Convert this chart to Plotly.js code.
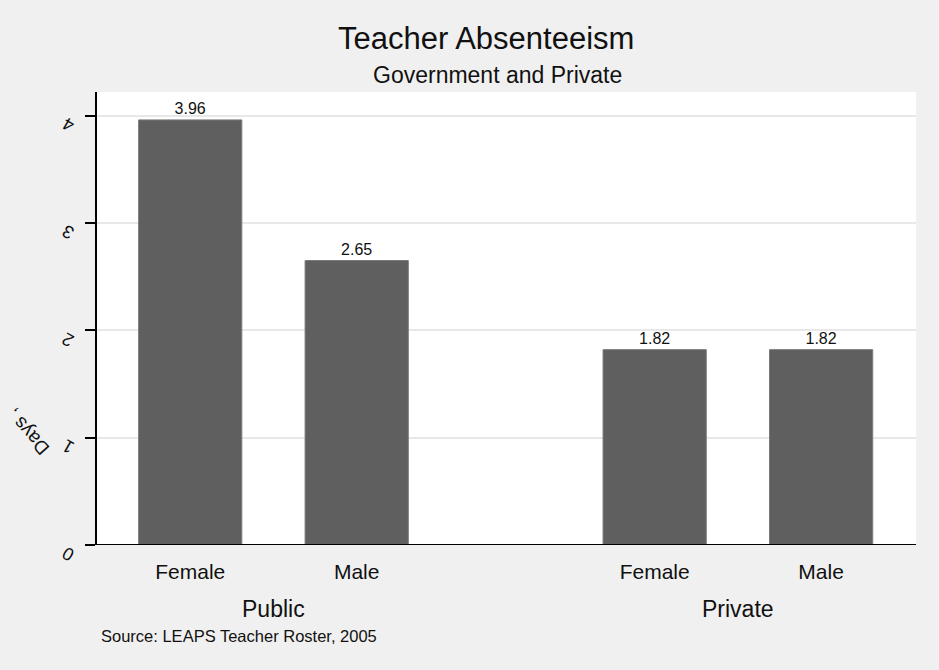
<!DOCTYPE html>
<html>
<head>
<meta charset="utf-8">
<script src="https://cdn.plot.ly/plotly-3.0.1.min.js"></script>
<style>html,body{margin:0;padding:0;background:#f0f0f0;}#chart{width:939px;height:670px;}</style>
</head>
<body>
<div id="chart"></div>
<script>
const groups = ["Public", "Private"];
const categories = ["Female", "Male"];
const values = [[3.96, 2.65], [1.82, 1.82]];
const yTicks = [0, 1, 2, 3, 4];

const groupGap = 2.79;
const xs = [], ys = [], labels = [], tickvals = [], ticktext = [];
const annotations = [];
groups.forEach((g, gi) => {
  categories.forEach((c, ci) => {
    const x = gi * groupGap + ci;
    xs.push(x); ys.push(values[gi][ci]);
    labels.push(values[gi][ci].toFixed(2));
    tickvals.push(x); ticktext.push(c);
  });
  annotations.push({
    x: gi * groupGap + (categories.length - 1) / 2, xref: 'x',
    y: 0, yref: 'paper', yanchor: 'middle', yshift: -64,
    text: g, showarrow: false, font: {size: 23, color: '#111'}
  });
});
// rotated y tick labels
yTicks.forEach(v => {
  annotations.push({
    x: 0, xref: 'paper', xshift: -41, y: v, yref: 'y', yshift: -9,
    text: String(v), textangle: -150, showarrow: false,
    font: {size: 18, color: '#111'}
  });
});
annotations.push({
  x: 0, xref: 'paper', xanchor: 'left', xshift: 2,
  y: 0, yref: 'paper', yanchor: 'middle', yshift: -91,
  text: 'Source: LEAPS Teacher Roster, 2005', showarrow: false,
  font: {size: 16.5, color: '#111'}
});
annotations.push({
  x: 0, xref: 'paper', xshift: -98, y: 1.05, yref: 'y',
  text: 'Days ,', textangle: -132, showarrow: false,
  font: {size: 19, color: '#111'}
});
annotations.push({
  x: 0.4744, xref: 'paper', y: 1, yref: 'paper', yanchor: 'middle', yshift: 54,
  text: 'Teacher Absenteeism', showarrow: false, font: {size: 31, color: '#111'}
});
annotations.push({
  x: 0.489, xref: 'paper', y: 1, yref: 'paper', yanchor: 'middle', yshift: 17.5,
  text: 'Government and Private', showarrow: false, font: {size: 23, color: '#111'}
});

const trace = {
  type: 'bar', x: xs, y: ys, width: 0.62,
  text: labels, textposition: 'outside', cliponaxis: false,
  textfont: {size: 16, color: '#111'},
  marker: {color: '#5f5f5f', line: {color: '#7a7a7a', width: 1}},
  hoverinfo: 'none'
};

const layout = {
  width: 939, height: 670,
  paper_bgcolor: '#f0f0f0', plot_bgcolor: '#ffffff',
  font: {family: 'Arial, "Liberation Sans", sans-serif', color: '#111'},
  margin: {l: 97, r: 23, t: 92, b: 125},
  showlegend: false,
  xaxis: {
    range: [-0.56, 4.36], tickvals: tickvals, ticktext: ticktext,
    showgrid: false, zeroline: false, showline: false, ticks: '',
    ticklabelstandoff: 12,
    tickfont: {size: 21, color: '#111'}, fixedrange: true
  },
  yaxis: {
    range: [0, 4.22], tickvals: yTicks, ticks: 'outside', ticklen: 10, tickwidth: 2,
    tickcolor: '#000', showline: true, linecolor: '#000', linewidth: 2,
    gridcolor: '#e8e8e8', gridwidth: 2, zeroline: false,
    showticklabels: false, fixedrange: true
  },
  shapes: [{type: 'line', xref: 'paper', yref: 'y', x0: -0.012, x1: 1, y0: 0, y1: 0, line: {color: '#000', width: 2}}],
  annotations: annotations
};

Plotly.newPlot('chart', [trace], layout, {displayModeBar: false, staticPlot: true});
</script>
</body>
</html>
